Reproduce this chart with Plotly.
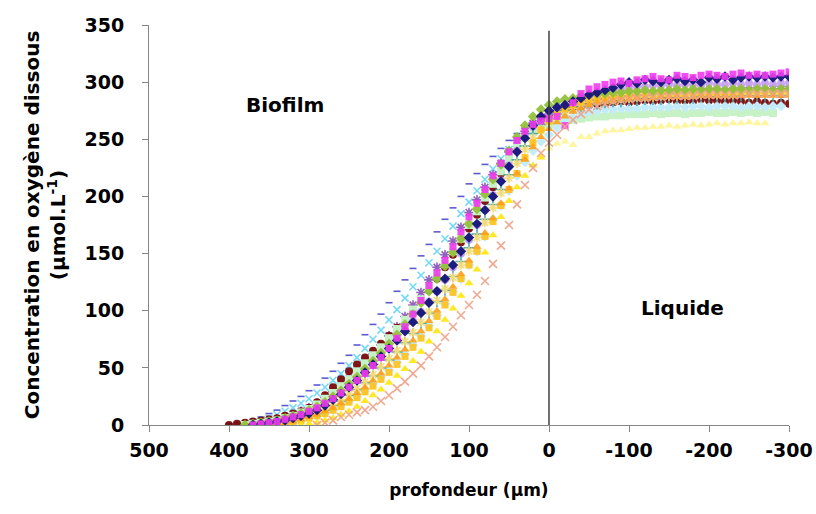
import numpy as np
import plotly.graph_objects as go

# ---- data: oxygen profiles (depth in µm, positive = inside biofilm) ----
x_ticks = [500, 400, 300, 200, 100, 0, -100, -200, -300]
y_ticks = [0, 50, 100, 150, 200, 250, 300, 350]

# each series: first depth (µm) and concentrations every 10 µm towards the liquid
blue_dash_start = 400
blue_dash = [1, 2, 3, 5, 7, 10, 13, 17, 21, 25, 30, 35, 41, 47, 54, 61, 70, 79, 88, 97,
             107, 117, 127, 137, 148, 158, 169, 180, 190, 200, 211, 220, 228, 235, 242, 249, 255, 260, 265, 270, 274,
             277, 279, 281, 282, 283, 284, 285, 285, 286, 286, 287, 286, 287, 287, 288, 287, 288, 287, 288, 288,
             287, 288, 288, 287, 288, 287, 288, 288, 287, 288]

cyan_x_start = 390
cyan_x = [0, 1, 2, 4, 6, 9, 12, 15, 19, 23, 28, 33, 39, 45, 52, 59, 67, 75, 83, 92,
          101, 111, 121, 131, 142, 152, 163, 174, 185, 195, 205, 215, 224, 233, 241, 248, 254, 259, 263, 267,
          270, 273, 276, 278, 280, 281, 282, 283, 284, 284, 285, 285, 286, 286, 287, 287, 288, 288, 289, 289,
          290, 290, 290, 291, 291, 290, 291, 291, 291, 292]

purple_star_start = 380
purple_star = [0, 1, 2, 3, 5, 7, 9, 12, 15, 19, 24, 29, 35, 41, 48, 55, 62, 70, 78,
               86, 95, 105, 116, 127, 138, 149, 161, 173, 186, 197, 208, 219, 229, 239, 249, 257, 264, 269, 272,
               275, 278, 280, 282, 284, 285, 286, 287, 288, 288, 289, 289, 290, 290, 290, 291, 291, 291, 292, 292,
               292, 292, 293, 293, 293, 293, 293, 294, 294, 294]

maroon_start = 400
maroon = [0, 1, 2, 3, 4, 5, 6, 8, 10, 12, 15, 20, 26, 33, 40, 47, 53, 59, 65, 71,
          78, 85, 92, 100, 109, 118, 128, 138, 149, 160, 172, 184, 196, 208, 220, 232, 243, 253, 261, 267, 271,
          274, 276, 278, 279, 280, 281, 281, 282, 283, 282, 283, 284, 283, 284, 285, 283, 284, 283, 285, 284,
          284, 283, 284, 283, 282, 283, 282, 281, 282, 281]

light_green_start = 380
light_green = [0, 1, 2, 3, 4, 6, 8, 11, 14, 18, 23, 28, 34, 40, 47, 54, 61, 68, 76,
               84, 92, 101, 110, 120, 130, 141, 152, 163, 175, 187, 199, 211, 222, 233, 243, 251, 257, 261, 263,
               265, 266, 267, 268, 269, 270, 270, 271, 271, 272, 272, 272, 273, 272, 273, 273, 272, 273, 273, 274,
               273, 273, 274, 273, 274, 273, 274, 273]

lavender_start = 370
lavender = [0, 1, 2, 3, 4, 6, 8, 11, 14, 18, 23, 28, 34, 40, 46, 53, 60, 67,
            75, 83, 91, 99, 108, 117, 127, 138, 150, 162, 175, 188, 201, 214, 227, 240, 252, 261, 268, 273,
            277, 280, 283, 286, 288, 290, 292, 293, 294, 295, 296, 296, 297, 297, 298, 297, 298, 298, 297, 299,
            298, 298, 299, 298, 299, 298, 299, 298, 299, 299]

light_blue_start = 350
light_blue = [0, 1, 2, 3, 4, 6, 8, 10, 13, 17, 21, 25, 30, 36, 42, 48,
              55, 62, 70, 78, 87, 96, 106, 117, 128, 140, 152, 165, 180, 192, 205, 218, 230, 240, 248, 254,
              260, 265, 269, 272, 274, 275, 276, 276, 277, 277, 277, 278, 278, 278, 278, 279, 278, 279, 279, 278,
              279, 279, 279, 278, 279, 279, 278, 279, 279]

teal_start = 360
teal = [0, 1, 2, 3, 4, 6, 8, 10, 13, 17, 21, 26, 31, 37, 43, 50, 57,
        64, 72, 80, 89, 98, 108, 118, 130, 143, 155, 167, 180, 193, 206, 219, 232, 244, 255, 263, 268,
        272, 275, 277, 279, 280, 281, 282, 283, 283, 284, 284, 285, 285, 285, 286, 286, 286, 286, 287, 287,
        287, 287, 287, 288, 288, 288, 288, 288, 288, 288]

pale_star_start = 360
pale_star = [0, 1, 2, 3, 4, 6, 8, 11, 14, 18, 22, 27, 32, 38, 44, 51, 58,
             65, 73, 81, 90, 99, 109, 119, 129, 140, 152, 164, 177, 190, 203, 216, 229, 241, 251, 259, 265,
             270, 274, 277, 280, 282, 283, 284, 285, 286, 286, 287, 287, 287, 288, 288, 288, 288, 289, 289, 289,
             289, 289, 289, 290, 290, 290, 290, 290, 290, 290]

gold_square_start = 350
gold_square = [0, 1, 2, 3, 4, 6, 8, 10, 13, 16, 20, 24, 29, 34, 40, 46,
               53, 60, 68, 76, 85, 95, 105, 116, 128, 140, 152, 165, 178, 192, 206, 220, 234, 247, 258, 266,
               272, 277, 280, 283, 285, 286, 287, 288, 288, 289, 289, 289, 290, 290, 290, 290, 290, 291, 290, 291,
               291, 290, 291, 291, 291, 290, 291, 291, 291, 291]

orange_tri_start = 350
orange_tri = [0, 1, 2, 3, 5, 7, 9, 12, 15, 19, 23, 28, 33, 39, 45, 52,
              59, 66, 74, 82, 91, 100, 110, 121, 132, 144, 156, 168, 181, 194, 207, 220, 232, 243, 252, 259,
              265, 270, 274, 277, 280, 282, 283, 284, 285, 285, 286, 286, 286, 287, 287, 287, 287, 287, 288, 288,
              288, 288, 288, 288, 288, 288, 288, 288, 288, 288]

lime_start = 380
lime = [0, 1, 2, 3, 4, 6, 8, 10, 13, 16, 20, 25, 30, 36, 42, 49, 56, 63, 71,
        79, 88, 97, 107, 117, 128, 139, 151, 163, 176, 189, 202, 215, 228, 240, 252, 262, 270, 276, 280,
        283, 285, 286, 288, 289, 290, 290, 291, 291, 292, 292, 293, 292, 293, 293, 294, 293, 294, 293, 294,
        294, 293, 294, 294, 293, 294, 294, 293, 294, 294]

navy_start = 370
navy = [0, 1, 2, 3, 4, 6, 8, 10, 13, 17, 22, 27, 33, 39, 46, 53, 60, 67,
        74, 82, 90, 98, 107, 117, 128, 140, 152, 164, 176, 188, 200, 213, 226, 239, 251, 262, 270, 275,
        278, 280, 283, 286, 289, 291, 293, 295, 298, 300, 299, 302, 301, 300, 302, 303, 301, 302, 300, 304,
        303, 305, 302, 304, 305, 304, 305, 304, 305, 305]

magenta_start = 370
magenta = [0, 1, 2, 3, 5, 7, 9, 12, 15, 19, 23, 28, 33, 39, 45, 52, 59, 67,
           76, 86, 97, 109, 122, 133, 144, 156, 169, 182, 194, 206, 218, 229, 239, 249, 257, 263, 266, 268,
           270, 262, 282, 290, 294, 296, 298, 300, 301, 299, 302, 303, 305, 303, 302, 306, 305, 304, 306, 307,
           306, 305, 307, 308, 306, 307, 306, 307, 308, 309]

yellow_tri_start = 310
yellow_tri = [0, 1, 2, 4, 6, 9, 12, 16, 21, 26, 31, 37,
              43, 49, 56, 64, 73, 82, 92, 102, 113, 124, 136, 151, 166, 182, 196, 208, 218, 227, 234, 242,
              246, 248, 245, 252, 252, 255, 257, 258, 258, 259, 260, 260, 261, 261, 262, 261, 262, 263, 262, 263,
              264, 263, 264, 264, 265, 264, 264]

salmon_x_start = 290
salmon_x = [0, 2, 4, 7, 9, 11, 13, 16, 21, 26, 32, 38, 45, 52, 60, 68, 77, 86, 96, 105,
            114, 126, 141, 157, 175, 193, 210, 225, 238, 247,
            254, 261, 267, 272, 276, 279, 281, 283, 284, 285, 286, 286, 287, 287, 288, 288, 288, 288, 289, 289,
            289, 289, 289, 289, 290, 290, 290, 290, 290, 290]

# ---- styles ----
series = [
    (blue_dash_start, blue_dash, "line-ew-open", "#5B5BD6", 5, 1.0),
    (cyan_x_start, cyan_x, "x-thin-open", "#6FD8F5", 7, 0.95),
    (purple_star_start, purple_star, "asterisk-open", "#8E5BB8", 8, 0.95),
    (maroon_start, maroon, "circle", "#7A0A0A", 8, 0.95),
    (light_green_start, light_green, "square", "#C6F2C6", 8, 1.0),
    (lavender_start, lavender, "circle", "#C49BF2", 8, 0.9),
    (light_blue_start, light_blue, "diamond", "#C3EBFA", 8, 1.0),
    (teal_start, teal, "cross-thin-open", "#3FA0A8", 8, 0.9),
    (pale_star_start, pale_star, "asterisk-open", "#F5DD7A", 8, 0.95),
    (gold_square_start, gold_square, "square", "#FFC21A", 7, 0.9),
    (orange_tri_start, orange_tri, "triangle-up", "#FF9F1A", 8, 0.9),
    (lime_start, lime, "diamond", "#94C23A", 8, 0.95),
    (navy_start, navy, "diamond", "#14147A", 8, 0.95),
    (magenta_start, magenta, "square", "#F03CF0", 7, 0.9),
    (yellow_tri_start, yellow_tri, "triangle-up", "#FFE81A", 8, 0.95),
    (salmon_x_start, salmon_x, "x-thin-open", "#EFA58C", 8, 0.95),
]

fig = go.Figure()
for start, vals, sym, col, size, op in series:
    xs = start - 10 * np.arange(len(vals))
    colors = col
    if vals is yellow_tri:
        colors = [col if x > 0 else "#FFF59A" for x in xs]
    fig.add_trace(go.Scatter(
        x=xs, y=vals, mode="markers", showlegend=False, opacity=op, hoverinfo="skip",
        marker=dict(symbol=sym, size=size, color=colors,
                    line=dict(width=1.6 if sym.endswith("open") else 0, color=col)),
    ))

# vertical line at the biofilm / liquid interface
fig.add_shape(type="line", x0=0, x1=0, y0=0, y1=345, xref="x", yref="y",
              line=dict(color="#404040", width=1.5))

font_fam = "DejaVu Sans"
fig.add_annotation(x=330, y=280, text="Biofilm", showarrow=False,
                   font=dict(family=font_fam, size=20, color="black", weight="bold"))
fig.add_annotation(x=-167, y=102, text="Liquide", showarrow=False,
                   font=dict(family=font_fam, size=20, color="black", weight="bold"))

fig.update_layout(
    width=816, height=514,
    margin=dict(l=149, r=27, t=25, b=89),
    plot_bgcolor="white", paper_bgcolor="white",
    font=dict(family=font_fam, color="black"),
)
fig.update_xaxes(
    range=[500, -300], tickvals=x_ticks, ticktext=[str(v) for v in x_ticks],
    automargin=False,
    showgrid=False, zeroline=False, showline=True, linecolor="#868686", linewidth=1,
    ticks="outside", ticklen=6, tickcolor="#868686", ticklabelstandoff=2,
    tickfont=dict(family=font_fam, size=19, color="black", weight="bold"),
    title=dict(text="profondeur (µm)", standoff=24,
               font=dict(family=font_fam, size=17, color="black", weight="bold")),
)
fig.update_yaxes(
    range=[0, 350], tickvals=y_ticks,
    automargin=False,
    showgrid=False, zeroline=False, showline=True, linecolor="#868686", linewidth=1,
    ticks="outside", ticklen=6, tickcolor="#868686", ticklabelstandoff=14,
    tickfont=dict(family=font_fam, size=19, color="black", weight="bold"),
    title=dict(text="Concentration en oxygène dissous<br>(µmol.L<sup>-1</sup>)", standoff=13,
               font=dict(family=font_fam, size=20, color="black", weight="bold")),
)

fig.write_html("out.html", config={"displayModeBar": False},
               post_script="document.body.style.margin='0px';")
